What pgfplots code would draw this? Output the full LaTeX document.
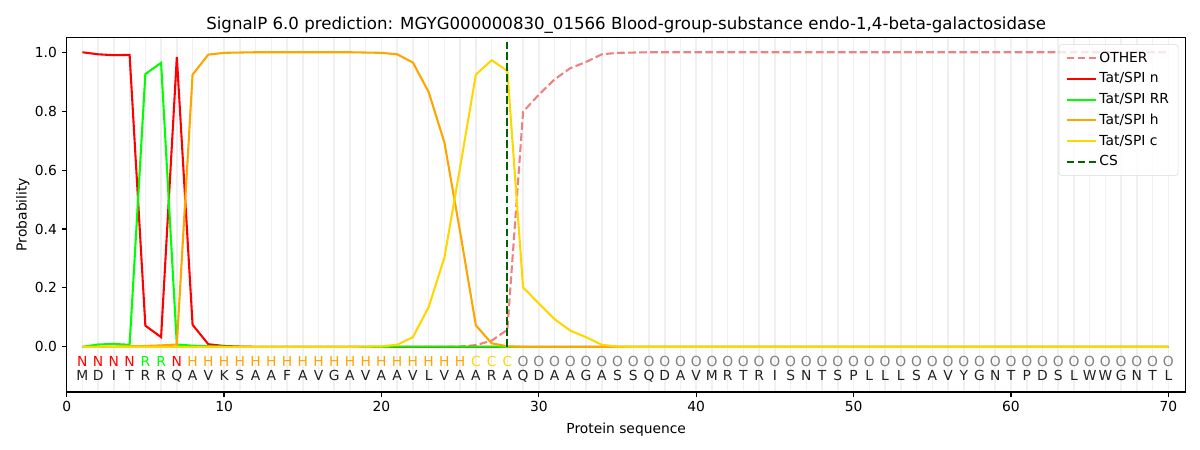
\documentclass[border=0pt]{standalone}
\usepackage{fontspec}
\setmainfont{DejaVu Sans}
\usepackage{pgfplots}
\usepackage{pgfplotstable}
\pgfplotsset{compat=1.18}
\definecolor{cother}{HTML}{F08080}
\definecolor{cn}{HTML}{FF0000}
\definecolor{crr}{HTML}{00FF00}
\definecolor{ch}{HTML}{FFA500}
\definecolor{cc}{HTML}{FFD700}
\definecolor{ccs}{HTML}{006400}
\definecolor{cgrid}{HTML}{F0F0F0}
\definecolor{cgray}{HTML}{808080}

\pgfplotstableread{
x other n rr h c
1 0 1.000 0.000 0.000 0
2 0 0.993 0.008 0.000 0
3 0 0.990 0.010 0.001 0
4 0 0.991 0.007 0.002 0
5 0 0.072 0.926 0.003 0
6 0 0.033 0.964 0.005 0
7 0 0.984 0.008 0.008 0
8 0 0.075 0.004 0.924 0
9 0 0.009 0.002 0.992 0
10 0 0.003 0.001 0.998 0
11 0 0.001 0.000 0.999 0
12 0 0 0 1.000 0
13 0 0 0 1.000 0
14 0 0 0 1.000 0
15 0 0 0 1.000 0
16 0 0 0 1.000 0
17 0 0 0 1.000 0
18 0 0 0 1.000 0
19 0 0 0 0.999 0.001
20 0 0 0 0.998 0.002
21 0 0 0.001 0.993 0.007
22 0 0 0.001 0.965 0.033
23 0 0 0.001 0.865 0.135
24 0 0 0.001 0.694 0.303
25 0.001 0 0.001 0.390 0.610
26 0.006 0 0.001 0.073 0.924
27 0.021 0 0.001 0.012 0.973
28 0.058 0 0 0.002 0.937
29 0.798 0 0 0 0.202
30 0.856 0 0 0 0.147
31 0.908 0 0 0 0.094
32 0.946 0 0 0 0.055
33 0.967 0 0 0 0.033
34 0.993 0 0 0 0.007
35 0.998 0 0 0 0.001
36 0.999 0 0 0 0
37 1.000 0 0 0 0
38 1.000 0 0 0 0
39 1.000 0 0 0 0
40 1.000 0 0 0 0
41 1.000 0 0 0 0
42 1.000 0 0 0 0
43 1.000 0 0 0 0
44 1.000 0 0 0 0
45 1.000 0 0 0 0
46 1.000 0 0 0 0
47 1.000 0 0 0 0
48 1.000 0 0 0 0
49 1.000 0 0 0 0
50 1.000 0 0 0 0
51 1.000 0 0 0 0
52 1.000 0 0 0 0
53 1.000 0 0 0 0
54 1.000 0 0 0 0
55 1.000 0 0 0 0
56 1.000 0 0 0 0
57 1.000 0 0 0 0
58 1.000 0 0 0 0
59 1.000 0 0 0 0
60 1.000 0 0 0 0
61 1.000 0 0 0 0
62 1.000 0 0 0 0
63 1.000 0 0 0 0
64 1.000 0 0 0 0
65 1.000 0 0 0 0
66 1.000 0 0 0 0
67 1.000 0 0 0 0
68 1.000 0 0 0 0
69 1.000 0 0 0 0
70 1.000 0 0 0 0
}\probs

\pgfplotstableread{
x aa
1 M
2 D
3 I
4 T
5 R
6 R
7 Q
8 A
9 V
10 K
11 S
12 A
13 A
14 F
15 A
16 V
17 G
18 A
19 V
20 A
21 A
22 V
23 L
24 V
25 A
26 A
27 R
28 A
29 Q
30 D
31 A
32 A
33 G
34 A
35 S
36 S
37 Q
38 D
39 A
40 V
41 M
42 R
43 T
44 R
45 I
46 S
47 N
48 T
49 S
50 P
51 L
52 L
53 L
54 S
55 A
56 V
57 Y
58 G
59 N
60 T
61 P
62 D
63 S
64 L
65 W
66 W
67 G
68 N
69 T
70 L
}\seq

\newcommand{\fs}{\fontsize{10}{12}\selectfont}

\begin{document}
\begin{tikzpicture}
\path[use as bounding box] (-48bp,-41.8bp) rectangle (816bp,282.2bp);
\begin{axis}[
  at={(0,0)}, anchor=south west,
  scale only axis, width=805.7bp, height=255.4bp,
  xmin=0, xmax=71.1, ymin=-0.153, ymax=1.051,
  xtick={0,10,...,70}, ytick={0,0.2,0.4,0.6,0.8,1.0},
  minor xtick={1,2,...,70},
  xminorgrids,
  minor grid style={draw=cgrid, line width=1.1bp},
  minor tick length=0pt,
  yticklabel style={/pgf/number format/.cd, fixed, fixed zerofill, precision=1},
  /pgf/number format/assume math mode=true,
  tick align=outside, xtick pos=bottom, ytick pos=left,
  major tick length=3.5bp,
  tick style={black, line width=0.8bp},
  axis line style={line width=0.8bp},
  tick label style={font=\fs},
  label style={font=\fs},
  xlabel={Protein sequence}, ylabel={Probability},
  xlabel style={yshift=-1.2bp},
  ylabel style={yshift=-3bp},
  title={SignalP 6.0 prediction: MGYG000000830\_01566 Blood-group-substance endo-1,4-beta-galactosidase},
  title style={font=\fontsize{12}{14}\selectfont, yshift=-7bp},
  legend style={at={(1,1)}, anchor=north east, xshift=-5.3bp, yshift=-5bp,
    draw=black!15, rounded corners=2bp, fill=white, fill opacity=0.8, text opacity=1,
    font=\fs, row sep=2bp, inner xsep=4.5bp, inner ysep=3.5bp},
  legend cell align=left,
  legend image code/.code={\draw[#1] (0bp,0bp) -- (21bp,0bp);},
  every axis plot/.append style={line width=1.5bp},
]
\addplot[cother, dash pattern=on 5.55bp off 2.4bp] table[x=x, y=other] {\probs};
\addlegendentry{OTHER}
\addplot[cn] table[x=x, y=n] {\probs};
\addlegendentry{Tat/SPI n}
\addplot[crr] table[x=x, y=rr] {\probs};
\addlegendentry{Tat/SPI RR}
\addplot[ch] table[x=x, y=h] {\probs};
\addlegendentry{Tat/SPI h}
\addplot[cc] table[x=x, y=c] {\probs};
\addlegendentry{Tat/SPI c}
\addplot[ccs, dash pattern=on 5.55bp off 2.4bp] coordinates {(28,0) (28,1.035)};
\addlegendentry{CS}

\addplot[draw=none, mark=none, forget plot, nodes near coords, point meta=explicit symbolic,
  every node near coord/.append style={anchor=base, font=\fs, text=black!87, inner sep=0pt}]
  table[x=x, y expr=-0.115, meta=aa] {\seq};
\addplot[draw=none, mark=none, forget plot, nodes near coords, point meta=explicit symbolic,
  every node near coord/.append style={anchor=base, font=\fs, text=cn, inner sep=0pt}]
  coordinates {(1,-0.067) [N] (2,-0.067) [N] (3,-0.067) [N] (4,-0.067) [N] (7,-0.067) [N]};
\addplot[draw=none, mark=none, forget plot, nodes near coords, point meta=explicit symbolic,
  every node near coord/.append style={anchor=base, font=\fs, text=crr, inner sep=0pt}]
  coordinates {(5,-0.067) [R] (6,-0.067) [R]};
\addplot[draw=none, mark=none, forget plot, nodes near coords, point meta=explicit symbolic,
  every node near coord/.append style={anchor=base, font=\fs, text=ch, inner sep=0pt}]
  coordinates {(8,-0.067) [H] (9,-0.067) [H] (10,-0.067) [H] (11,-0.067) [H] (12,-0.067) [H]
  (13,-0.067) [H] (14,-0.067) [H] (15,-0.067) [H] (16,-0.067) [H] (17,-0.067) [H]
  (18,-0.067) [H] (19,-0.067) [H] (20,-0.067) [H] (21,-0.067) [H] (22,-0.067) [H]
  (23,-0.067) [H] (24,-0.067) [H] (25,-0.067) [H]};
\addplot[draw=none, mark=none, forget plot, nodes near coords, point meta=explicit symbolic,
  every node near coord/.append style={anchor=base, font=\fs, text=cc, inner sep=0pt}]
  coordinates {(26,-0.067) [C] (27,-0.067) [C] (28,-0.067) [C]};
\addplot[draw=none, mark=none, forget plot, nodes near coords, point meta=explicit symbolic,
  every node near coord/.append style={anchor=base, font=\fs, text=cgray, inner sep=0pt}]
  coordinates {(29,-0.067) [O] (30,-0.067) [O] (31,-0.067) [O] (32,-0.067) [O] (33,-0.067) [O]
  (34,-0.067) [O] (35,-0.067) [O] (36,-0.067) [O] (37,-0.067) [O] (38,-0.067) [O]
  (39,-0.067) [O] (40,-0.067) [O] (41,-0.067) [O] (42,-0.067) [O] (43,-0.067) [O]
  (44,-0.067) [O] (45,-0.067) [O] (46,-0.067) [O] (47,-0.067) [O] (48,-0.067) [O]
  (49,-0.067) [O] (50,-0.067) [O] (51,-0.067) [O] (52,-0.067) [O] (53,-0.067) [O]
  (54,-0.067) [O] (55,-0.067) [O] (56,-0.067) [O] (57,-0.067) [O] (58,-0.067) [O]
  (59,-0.067) [O] (60,-0.067) [O] (61,-0.067) [O] (62,-0.067) [O] (63,-0.067) [O]
  (64,-0.067) [O] (65,-0.067) [O] (66,-0.067) [O] (67,-0.067) [O] (68,-0.067) [O]
  (69,-0.067) [O] (70,-0.067) [O]};
\end{axis}
\end{tikzpicture}
\end{document}
